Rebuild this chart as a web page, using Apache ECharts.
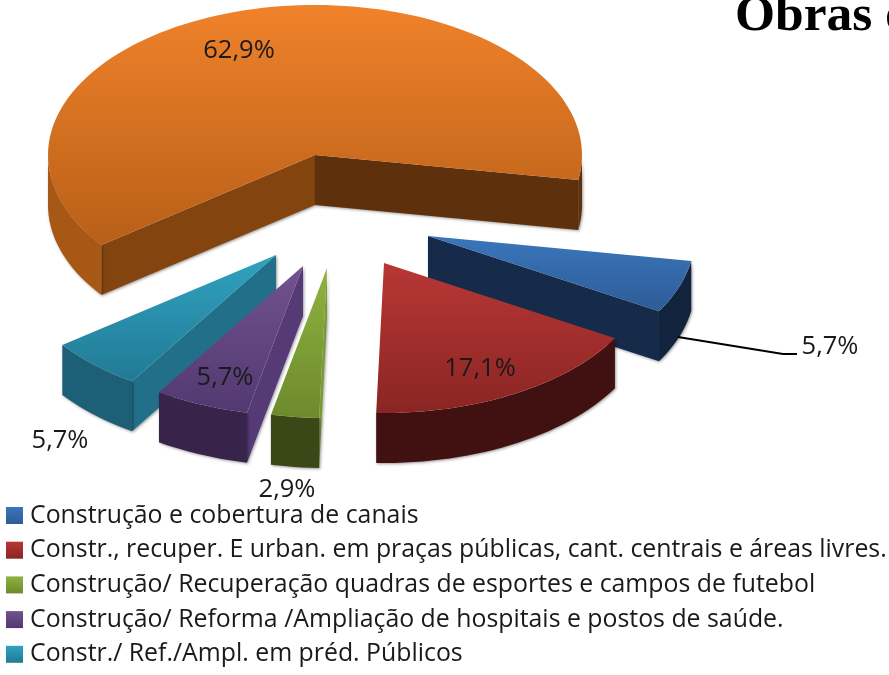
<!DOCTYPE html>
<html>
<head>
<meta charset="utf-8">
<title>Obras</title>
<style>
  html, body { margin: 0; padding: 0; background: #fff; }
  #chart { width: 889px; height: 675px; }
</style>
</head>
<body>
<div id="chart"></div>
<script src="https://cdn.jsdelivr.net/npm/echarts@6/dist/echarts.min.js"></script>
<script>
// data, in legend order (the orange slice has no legend entry in the picture)
var categories = [
  'Construção e cobertura de canais',
  'Constr., recuper. E urban. em praças públicas, cant. centrais e áreas livres.',
  'Construção/ Recuperação quadras de esportes e campos de futebol',
  'Construção/ Reforma /Ampliação de hospitais e postos de saúde.',
  'Constr./ Ref./Ampl. em préd. Públicos',
  'Outras obras'
];
var values = [5.7, 17.1, 2.9, 5.7, 5.7, 62.9];

// fake 3d layout: ellipse of the top face, wall height, explode offset of every slice
var centerX = 315, centerY = 155, radiusX = 267, radiusY = 150, depth = 50;
var startAngle = 9.6;
var explodeX = [113, 69, 12, -12, -39, 0];
var explodeY = [81, 108, 113, 111, 100, 0];
var labelX = [830, 480, 287, 225, 60, 239];
var labelY = [347, 369, 490, 378, 441, 51];

// styles
var topFrom = ['#3a76bc', '#b83735', '#8fb33f', '#72528f', '#30a2c0', '#f0822a'];
var topTo = ['#2d5c96', '#8a2523', '#6d8a2d', '#523870', '#217a95', '#b85f18'];
var outerColor = ['#11233d', '#401110', '#3a4716', '#38244b', '#1d5f76', '#a65814'];
var startWallColor = ['#152b49', '#401110', '#7a9a34', '#553a76', '#216f89', '#84440f'];
var endWallColor = ['#152b49', '#401110', '#7a9a34', '#553a76', '#216f89', '#5f300c'];
var drawOrder = [5, 0, 1, 4, 3, 2];
var wallShadow = { shadowBlur: 3, shadowColor: 'rgba(0,0,0,0.4)', shadowOffsetX: 1, shadowOffsetY: 1 };

function sliceAngles(i) {
  var from = startAngle;
  for (var k = 0; k < i; k++) from += values[k] * 3.6;
  return [from, from + values[i] * 3.6];
}

function rimPoint(x, y, deg) {
  var rad = deg * Math.PI / 180;
  return [x + radiusX * Math.cos(rad), y + radiusY * Math.sin(rad)];
}

function arcPoints(x, y, from, to) {
  var pts = [];
  var steps = Math.max(2, Math.ceil((to - from) / 2));
  for (var s = 0; s <= steps; s++) pts.push(rimPoint(x, y, from + (to - from) * s / steps));
  return pts;
}

function wall(x, y, deg, color) {
  var rim = rimPoint(x, y, deg);
  return {
    type: 'polygon',
    shape: { points: [[x, y], rim, [rim[0], rim[1] + depth], [x, y + depth]] },
    style: Object.assign({ fill: color }, wallShadow)
  };
}

function outerWalls(x, y, from, to, color, wrapColor) {
  // only the part of the rim that faces the viewer
  var out = [];
  [[0, 180, color], [360, 540, wrapColor]].forEach(function (range) {
    var a = Math.max(from, range[0]), b = Math.min(to, range[1]);
    if (b <= a) return;
    var upper = arcPoints(x, y, a, b);
    var lower = upper.map(function (p) { return [p[0], p[1] + depth]; }).reverse();
    out.push({
      type: 'polygon',
      shape: { points: upper.concat(lower) },
      style: Object.assign({ fill: range[2] }, wallShadow)
    });
  });
  return out;
}

function renderSlice(i) {
  return function (params, api) {
    var val = api.value(0);
    var angles = sliceAngles(i);
    var x = centerX + explodeX[i], y = centerY + explodeY[i];
    var children = [];
    if (Math.cos(angles[0] * Math.PI / 180) < 0) children.push(wall(x, y, angles[0], startWallColor[i]));
    if (Math.cos(angles[1] * Math.PI / 180) > 0) children.push(wall(x, y, angles[1], endWallColor[i]));
    children = children.concat(outerWalls(x, y, angles[0], angles[1], outerColor[i], endWallColor[i]));
    children.push({
      type: 'polygon',
      shape: { points: [[x, y]].concat(arcPoints(x, y, angles[0], angles[1])) },
      style: {
        fill: new echarts.graphic.LinearGradient(0, 0, 0, 1, [
          { offset: 0, color: topFrom[i] },
          { offset: 1, color: topTo[i] }
        ])
      }
    });
    if (i === 0) {
      // leader line of the blue label
      children.push({
        type: 'polyline',
        shape: { points: [[678, 337], [783, 354], [797, 354]] },
        style: { stroke: '#000', lineWidth: 2, fill: null }
      });
    }
    children.push({
      type: 'text',
      style: {
        x: labelX[i],
        y: labelY[i],
        text: val.toFixed(1).replace('.', ',') + '%',
        fill: '#1a1a1a',
        font: '25.5px "Open Sans"',
        align: 'center',
        verticalAlign: 'middle'
      }
    });
    return { type: 'group', children: children };
  };
}

var chart = echarts.init(document.getElementById('chart'));

chart.setOption({
  animation: false,
  backgroundColor: '#fff',
  title: {
    text: 'Obras e',
    left: 730,
    top: -14,
    textStyle: { fontFamily: 'Liberation Serif', fontWeight: 'bold', fontSize: 51.5, color: '#000' }
  },
  legend: {
    data: categories.slice(0, 5),
    orient: 'vertical',
    left: 1,
    top: 498,
    itemWidth: 17,
    itemHeight: 17,
    itemGap: 9.7,
    icon: 'rect',
    selectedMode: false,
    textStyle: { fontFamily: 'Open Sans', fontSize: 24.85, color: '#1a1a1a', padding: [0, 0, 0, 2] }
  },
  series: drawOrder.map(function (i) {
    return {
      type: 'custom',
      name: categories[i],
      coordinateSystem: 'none',
      silent: true,
      itemStyle: {
        color: new echarts.graphic.LinearGradient(0, 0, 0, 1, [
          { offset: 0, color: topFrom[i] },
          { offset: 1, color: topTo[i] }
        ])
      },
      renderItem: renderSlice(i),
      data: [[values[i]]]
    };
  })
});
</script>
</body>
</html>
